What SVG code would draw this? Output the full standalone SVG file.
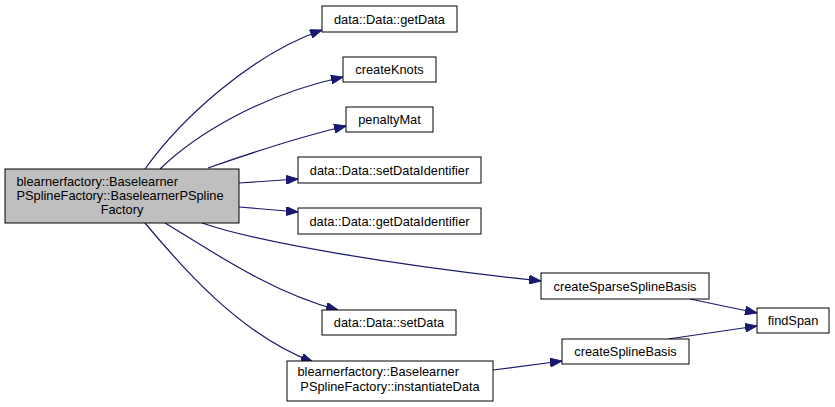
<svg xmlns="http://www.w3.org/2000/svg" width="835" height="407" viewBox="0 0 835 407">
<style>
.box{fill:#fff;stroke:#000;stroke-width:1}
.main{fill:#bfbfbf;stroke:#000;stroke-width:1}
text{font-family:"Liberation Sans",Arial,sans-serif;font-size:12.8px;fill:#000}
.c{text-anchor:middle}
.e{fill:none;stroke:#191970;stroke-width:1.2;marker-end:url(#ah)}
</style>
<defs>
<marker id="ah" markerUnits="userSpaceOnUse" markerWidth="12" markerHeight="9" refX="12" refY="4.5" orient="auto">
<path d="M0,0 L12,4.5 L0,9 z" fill="#191970" stroke="#191970" stroke-width="1"/>
</marker>
</defs>
<rect width="835" height="407" fill="#fff"/>
<g id="connectors">
<path class="e" d="M145,169 C180,120 250,55 322,30"/>
<path class="e" d="M160,169 C195,135 260,95 343,77"/>
<path class="e" d="M208,168 C245,155 295,138 346,126"/>
<path class="e" d="M239,183 L298,179"/>
<path class="e" d="M239,207 L298,212"/>
<path class="e" d="M202,223 C260,243 400,266 541,281"/>
<path class="e" d="M165,223 C210,250 270,292 338,310"/>
<path class="e" d="M145,223 C180,265 240,335 313,362"/>
<path class="e" d="M493,370 L562,361"/>
<path class="e" d="M690,299 L757,313"/>
<path class="e" d="M668,339 L757,326"/>
</g>
<g id="n_main">
<rect class="main" x="5" y="169" width="234" height="54"/>
<text x="16.5" y="186">blearnerfactory::Baselearner</text>
<text x="16.5" y="200">PSplineFactory::BaselearnerPSpline</text>
<text class="c" x="122" y="214">Factory</text>
</g>
<g id="n_getData">
<rect class="box" x="322" y="6" width="135" height="26"/>
<text class="c" x="389.5" y="23.5">data::Data::getData</text>
</g>
<g id="n_createKnots">
<rect class="box" x="343" y="57" width="93" height="25"/>
<text class="c" x="389.5" y="74">createKnots</text>
</g>
<g id="n_penaltyMat">
<rect class="box" x="346" y="107" width="87" height="25"/>
<text class="c" x="389.5" y="124">penaltyMat</text>
</g>
<g id="n_setDataIdentifier">
<rect class="box" x="298" y="157" width="183" height="26"/>
<text class="c" x="389.5" y="174.5">data::Data::setDataIdentifier</text>
</g>
<g id="n_getDataIdentifier">
<rect class="box" x="298" y="208" width="183" height="26"/>
<text class="c" x="389.5" y="225.5">data::Data::getDataIdentifier</text>
</g>
<g id="n_createSparseSplineBasis">
<rect class="box" x="541" y="273" width="168" height="26"/>
<text class="c" x="625" y="290.5">createSparseSplineBasis</text>
</g>
<g id="n_setData">
<rect class="box" x="322" y="310" width="134" height="25"/>
<text class="c" x="389" y="327">data::Data::setData</text>
</g>
<g id="n_instantiateData">
<rect class="box" x="287" y="361" width="206" height="40"/>
<text x="297.5" y="376">blearnerfactory::Baselearner</text>
<text class="c" x="390" y="391">PSplineFactory::instantiateData</text>
</g>
<g id="n_createSplineBasis">
<rect class="box" x="562" y="339" width="127" height="25"/>
<text class="c" x="625.5" y="356">createSplineBasis</text>
</g>
<g id="n_findSpan">
<rect class="box" x="757" y="308" width="72" height="25"/>
<text class="c" x="793" y="325">findSpan</text>
</g>
</svg>
